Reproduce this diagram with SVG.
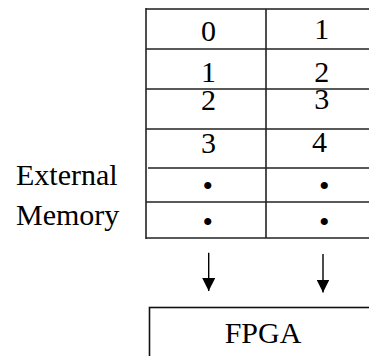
<svg xmlns="http://www.w3.org/2000/svg" width="369" height="356" viewBox="0 0 369 356">
  <style>
    .t { font-family: "Liberation Serif", "Times New Roman", serif; font-size: 30px; fill: #000; text-anchor: middle; }
    .lbl { font-family: "Liberation Serif", "Times New Roman", serif; font-size: 30px; fill: #000; }
    .grid { stroke: #222; stroke-width: 1.6; fill: none; }
    .box { stroke: #111; stroke-width: 1.6; fill: #fff; }
    .conn { stroke: #000; stroke-width: 1.4; fill: none; }
  </style>
  <defs>
    <marker id="head" viewBox="0 0 13 13" markerWidth="13" markerHeight="13" refX="13" refY="6.5" orient="auto" markerUnits="userSpaceOnUse">
      <path d="M0,0 L13,6.5 L0,13 Z" fill="#000"/>
    </marker>
  </defs>

  <rect width="369" height="356" fill="#fff"/>

  <!-- external memory table: two columns of words -->
  <g id="memory">
    <g class="grid">
      <line x1="146" y1="9" x2="369" y2="9" stroke="#555" stroke-width="2"/>
      <line x1="146" y1="49" x2="369" y2="49"/>
      <line x1="146" y1="89" x2="369" y2="89"/>
      <line x1="146" y1="129" x2="369" y2="129"/>
      <line x1="148" y1="168" x2="369" y2="168"/>
      <line x1="146" y1="202" x2="369" y2="202"/>
      <line x1="146" y1="238" x2="369" y2="238"/>
      <line x1="146" y1="8" x2="146" y2="239"/>
      <line x1="266" y1="9" x2="266" y2="238"/>
    </g>
    <text class="t" x="208.5" y="41.3">0</text>
    <text class="t" x="321.7" y="39.3">1</text>
    <text class="t" x="208.5" y="82">1</text>
    <text class="t" x="321.7" y="82">2</text>
    <text class="t" x="208.5" y="110">2</text>
    <text class="t" x="321.7" y="109.3">3</text>
    <text class="t" x="208.5" y="153">3</text>
    <text class="t" x="319.5" y="152.3">4</text>
    <text class="t" x="207.7" y="195.5">•</text>
    <text class="t" x="324.3" y="195.5">•</text>
    <text class="t" x="207.7" y="231.5">•</text>
    <text class="t" x="324.3" y="231.5">•</text>
  </g>

  <g id="memory-label">
    <text class="lbl" x="16" y="185">External</text>
    <text class="lbl" x="16" y="225">Memory</text>
  </g>

  <!-- transfer arrows into the FPGA -->
  <g id="connectors">
    <line class="conn" x1="208.7" y1="252.7" x2="208.7" y2="291" marker-end="url(#head)"/>
    <line class="conn" x1="323" y1="254" x2="323" y2="292.5" marker-end="url(#head)"/>
  </g>

  <g id="fpga">
    <rect class="box" x="149.5" y="307.5" width="240" height="60"/>
    <text class="t" x="263" y="343.3">FPGA</text>
  </g>
</svg>
